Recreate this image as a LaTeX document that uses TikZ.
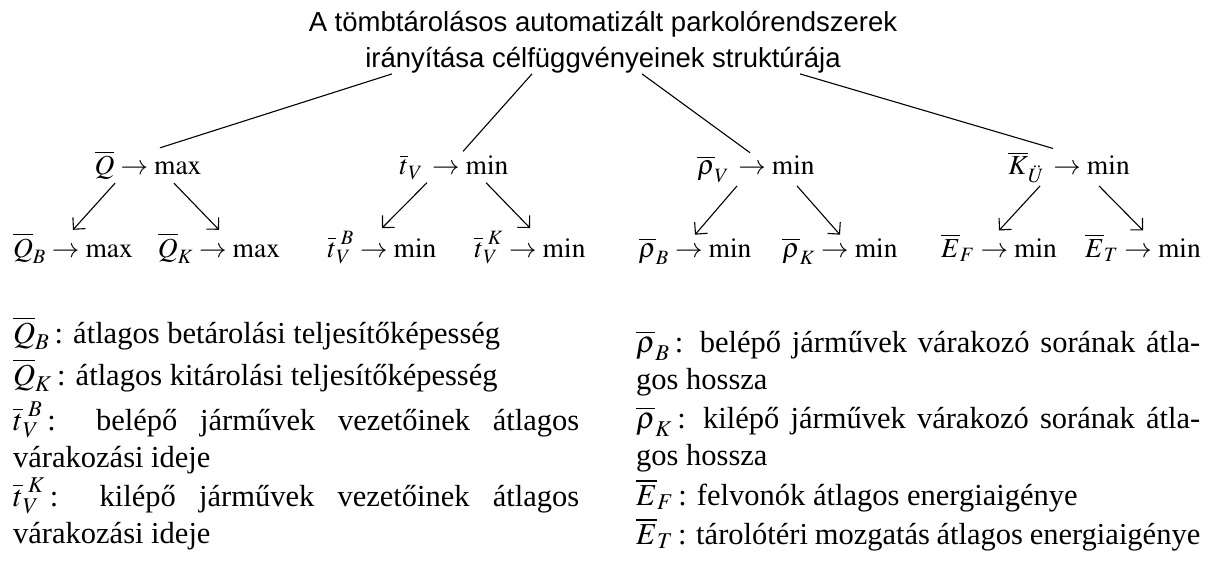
\documentclass[tikz,border=0pt]{standalone}
\usepackage{mathptmx}
\usepackage{fontspec}
\setmainfont{Liberation Serif}
\newfontfamily\arialfont{Liberation Sans}
\usetikzlibrary{arrows.meta}

\tikzset{
  goal/.style={anchor=base, inner sep=3pt, font=\fontsize{27.5}{32}\selectfont},
  link/.style={line width=1.1pt},
  arr/.style={line width=1.1pt, -{Straight Barb[angle=90:12pt, line width=1.1pt]}},
  legend/.style={anchor=base west, inner sep=0pt, text width=566pt, align=justify,
    font=\fontsize{30.5}{37}\selectfont}
}

\begin{document}
\begin{tikzpicture}[x=1pt, y=-1pt]
    \useasboundingbox (0,0) rectangle (1206,580);

    % Title (base is the second line)
    \node[align=center, inner sep=0pt, anchor=base, font=\arialfont\fontsize{27.5}{36}\selectfont]
        (title) at (603,68) {A tömbtárolásos automatizált parkolórendszerek\\irányítása célfüggvényeinek struktúrája};

    % Main goals
    \node[goal] (q)   at (148,175)  {$\overline{Q}\rightarrow\max$};
    \node[goal] (t)   at (454,175)  {$\overline{t}_V\,\rightarrow\min$};
    \node[goal] (rho) at (756,175)  {$\overline{\rho}_V\,\rightarrow\min$};
    \node[goal] (k)   at (1069,175) {$\overline{K}_{\ddot{U}}\,\rightarrow\min$};

    % Sub goals
    \node[goal] (qb)   at (73,257)   {$\overline{Q}_B\rightarrow\max$};
    \node[goal] (qk)   at (219,257)  {$\overline{Q}_K\rightarrow\max$};
    \node[goal] (tb)   at (382,257)  {$\overline{t}_V^{\;B}\rightarrow\min$};
    \node[goal] (tk)   at (530,257)  {$\overline{t}_V^{\;K}\rightarrow\min$};
    \node[goal] (rhob) at (695,257)  {$\overline{\rho}_B\rightarrow\min$};
    \node[goal] (rhok) at (840,257)  {$\overline{\rho}_K\rightarrow\min$};
    \node[goal] (ef)   at (999,257)  {$\overline{E}_F\rightarrow\min$};
    \node[goal] (et)   at (1143,257) {$\overline{E}_T\rightarrow\min$};

    % Title to main goals
    \draw[link] ([xshift=-211pt]title.south) -- ([xshift=12pt]q.north);
    \draw[link] ([xshift=-71pt]title.south)  -- ([xshift=9pt]t.north);
    \draw[link] ([xshift=39pt]title.south)   -- ([xshift=-6pt]rho.north);
    \draw[link] ([xshift=197pt]title.south)  -- ([xshift=-16pt]k.north);

    % Main goals to sub goals
    \draw[arr] ([xshift=-33pt]q.south)   -- (qb.north);
    \draw[arr] ([xshift=26pt]q.south)    -- (qk.north);
    \draw[arr] ([xshift=-27pt]t.south)   -- (tb.north);
    \draw[arr] ([xshift=32pt]t.south)    -- (tk.north);
    \draw[arr] ([xshift=-19pt]rho.south) -- (rhob.north);
    \draw[arr] ([xshift=41pt]rho.south)  -- (rhok.north);
    \draw[arr] ([xshift=-29pt]k.south)   -- (ef.north);
    \draw[arr] ([xshift=30pt]k.south)    -- (et.north);

    % Legend
    \node[legend] (lqb) at (13,343) {$\overline{Q}_B$\,: átlagos betárolási teljesítőképesség};
    \node[legend] (lqk) at (13,385) {$\overline{Q}_K$\,: átlagos kitárolási teljesítőképesség};
    \node[legend] (ltb) at (13,430) {$\overline{t}_V^{\;B}$\,: belépő járművek vezetőinek átlagos\linebreak várakozási ideje};
    \node[legend] (ltk) at (13,506) {$\overline{t}_V^{\;K}$\,: kilépő járművek vezetőinek átlagos\linebreak várakozási ideje};
    \node[legend, text width=564pt] (lrb) at (636,352) {$\overline{\rho}_B$\,: belépő járművek várakozó sorának átla-\linebreak gos hossza};
    \node[legend, text width=564pt] (lrk) at (636,428) {$\overline{\rho}_K$\,: kilépő járművek várakozó sorának átla-\linebreak gos hossza};
    \node[legend, text width=564pt] (lef) at (636,505) {$\overline{E}_F$\,: felvonók átlagos energiaigénye};
    \node[legend, text width=564pt] (let) at (636,544) {$\overline{E}_T$\,: tárolótéri mozgatás átlagos energiaigénye};
\end{tikzpicture}
\end{document}
